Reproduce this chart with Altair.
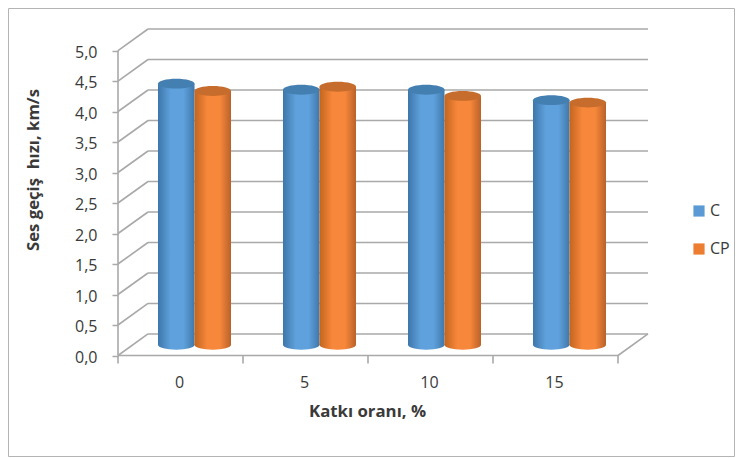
import altair as alt
import pandas as pd

categories = ["0", "5", "10", "15"]
series = ["C", "CP"]
values_c = [4.28, 4.18, 4.18, 4.01]
values_cp = [4.16, 4.23, 4.08, 3.97]
y_ticks = [0, 0.5, 1, 1.5, 2, 2.5, 3, 3.5, 4, 4.5, 5]
x_edges = [0, 1, 2, 3, 4]
colors = ["#5b9bd5", "#ed7d31"]

DX, DY = 0.24, 0.353          # depth of the floor in axis units
BAR = 0.292
rows = []
for i, c in enumerate(categories):
    for s, vals, off in (("C", values_c, -BAR / 2), ("CP", values_cp, BAR / 2)):
        xc = i + 0.5 + DX / 2 - 0.008 + off
        rows.append(dict(cat=c, series=s, value=vals[i], xc=xc, xl=xc - BAR / 2, xr=xc + BAR / 2,
                         base=DY / 2, top=vals[i] + DY / 2))
df = pd.DataFrame(rows)

X = alt.Scale(domain=[0, 4 + DX], range=[0, 530], nice=False, zero=False)
Y = alt.Scale(domain=[0, 5 + DY], range=[326.5, 0], nice=False, zero=False)
GRAY = "#a9a9a9"
TXT = "#3a3a3a"
FONT = "Open Sans"

x_axis = alt.Axis(
    values=[0.5, 1.5, 2.5, 3.5], labelExpr="['0','5','10','15'][floor(datum.value)]",
    ticks=False, domain=False, grid=False, labelPadding=19, labelFontSize=16, labelFont=FONT,
    labelOffset=-1.5, labelColor=TXT, title="Katkı oranı, %", titleFont=FONT, titleFontSize=16.8,
    titleFontWeight="bold", titleColor=TXT, titlePadding=13, titleX=249)
y_axis = alt.Axis(
    values=y_ticks, labelExpr="replace(format(datum.value,'.1f'),'.',',')",
    domain=False, grid=False, tickColor=GRAY, tickSize=6, tickWidth=1.5, labelPadding=15, labelFontSize=16,
    labelOffset=1.5, labelFont=FONT, labelColor=TXT, title="Ses geçiş\u00a0 hızı, km/s", titleFont=FONT,
    titleFontSize=16.7, titleFontWeight="bold", titleColor=TXT, titlePadding=32, titleY=140.5)


def ex(f):
    return alt.X(f, scale=X, axis=x_axis)


def ey(f):
    return alt.Y(f, scale=Y, axis=y_axis)


# frame of the chart
frame = alt.Chart(pd.DataFrame({"a": [0]})).mark_rect(filled=False, stroke="#b4b4b4", strokeWidth=1).encode(
    x=alt.value(-109.5), x2=alt.value(616.5), y=alt.value(-20.5), y2=alt.value(427.5))

walls = pd.DataFrame(
    [dict(x=DX, x2=4 + DX, y=t + DY, y2=t + DY) for t in y_ticks]
    + [dict(x=0, x2=DX, y=t, y2=t + DY) for t in y_ticks]
    + [dict(x=0, x2=4, y=0, y2=0), dict(x=0, x2=0, y=0, y2=5), dict(x=4, x2=4 + DX, y=0, y2=DY)]
    + [dict(x=e, x2=e, y=0, y2=-0.13) for e in x_edges]
)
grid = alt.Chart(walls).mark_rule(color=GRAY, strokeWidth=1.6).encode(
    x=ex("x:Q"), x2="x2:Q", y=ey("y:Q"), y2="y2:Q")

legend_src = alt.Chart(df).mark_square(size=20, opacity=1).encode(
    x=ex("xc:Q"), y=ey("base:Q"),
    color=alt.Color("series:N", scale=alt.Scale(domain=series, range=colors), legend=alt.Legend(
        title=None, orient="none", legendX=573, legendY=174, symbolType="square", symbolSize=125,
        labelFont=FONT, labelFontSize=16, labelColor=TXT, rowPadding=22, labelOffset=3, symbolStrokeWidth=0)))

ELL = "M-1,0A1,0.27 0 1 1 1,0A1,0.27 0 1 1 -1,0Z"
SIZE = 1340


def grad(dark, light, darker):
    return alt.LinearGradient(gradient="linear", x1=0, x2=1, y1=0, y2=0, stops=[
        alt.GradientStop(color=dark, offset=0), alt.GradientStop(color=light, offset=0.35),
        alt.GradientStop(color=light, offset=0.7), alt.GradientStop(color=darker, offset=1)])


layers = [frame, grid, legend_src]
for s, (dark, light, darker, cap) in {
    "C": ("#3d76aa", "#5fa1dc", "#3f78ab", "#447fb2"),
    "CP": ("#c2651f", "#f7873a", "#b9622a", "#c66c2c"),
}.items():
    d = alt.Chart(df[df.series == s])
    g = grad(dark, light, darker)
    layers.append(d.mark_point(shape=ELL, size=SIZE, filled=True, opacity=1, color=g).encode(
        x=ex("xc:Q"), y=ey("base:Q")))
    layers.append(d.mark_bar(color=g).encode(
        x=ex("xl:Q"), x2="xr:Q", y=ey("base:Q"), y2="top:Q"))
    layers.append(d.mark_point(shape=ELL, size=SIZE, filled=True, opacity=1, color=cap).encode(
        x=ex("xc:Q"), y=ey("top:Q")))

chart = alt.layer(*layers).properties(
    width=530, height=326.5,
    autosize=alt.AutoSizeParams(type="none"),
    padding={"left": 110, "top": 21, "right": 87, "bottom": 101.5},
    background="white",
).configure_view(stroke=None)

chart.save("out.html", embed_options={"renderer": "svg", "actions": False})
